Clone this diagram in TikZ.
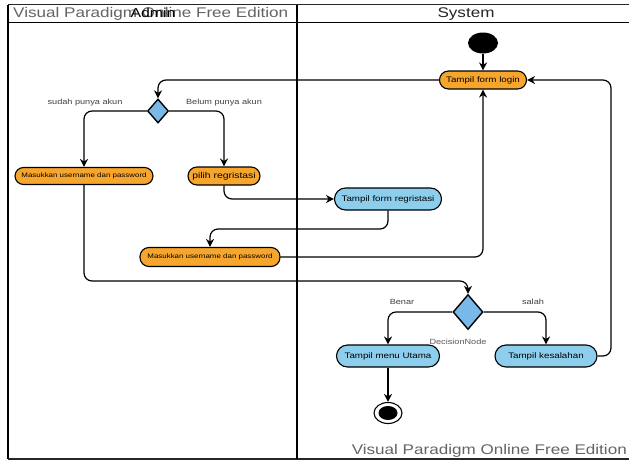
\documentclass[tikz,border=0pt]{standalone}
\usepackage{fontspec}
\setmainfont{Liberation Sans}
\usetikzlibrary{arrows.meta,shapes.geometric,calc}
\definecolor{actorange}{RGB}{247,166,45}
\definecolor{actblue}{RGB}{140,206,236}
\definecolor{decblue}{RGB}{120,185,232}
\definecolor{wmgray}{RGB}{100,100,100}
\newcommand{\hs}[1]{\scalebox{1.22}[1]{#1}}
\begin{document}
\begin{tikzpicture}[x=1pt,y=-1pt,
  act/.style={rectangle, rounded corners=9pt, draw=black, line width=1.1pt, inner sep=0pt, font=\fontsize{8}{9}\selectfont},
  orangeact/.style={act, fill=actorange},
  blueact/.style={act, fill=actblue},
  decision/.style={diamond, draw=black, line width=1.4pt, fill=decblue, inner sep=0pt},
  flow/.style={draw=black, line width=1.2pt, rounded corners=8pt, -{Stealth[length=8pt,width=8pt]}},
  lbl/.style={font=\fontsize{7.5}{9}\selectfont, text=black!75, inner sep=1pt},
  lane/.style={draw=black, line width=1.8pt}
]
\useasboundingbox (0,0) rectangle (629,461);
\clip (0,0) rectangle (629,461);
\fill[white] (0,0) rectangle (629,461);

% frame and lanes
\draw[line width=1.3pt, black!85] (8,4.5) -- (640,4.5);
\draw[lane] (8,4.5) -- (8,459);
\draw[line width=1.3pt, black!85] (8,459) -- (640,459);
\draw[lane] (8,22.5) -- (640,22.5);
\draw[line width=2.6pt] (297,4.5) -- (297,459);

% headers
\node[anchor=west, text=wmgray, font=\fontsize{14}{16}\selectfont, inner sep=0pt] (wm1) at (13,14) {\hs{Visual Paradigm Online Free Edition}};
\node[font=\fontsize{13}{15}\selectfont, inner sep=0pt] (admin) at (153,13) {\hs{Admin}};
\node[font=\fontsize{14}{16}\selectfont, text=black!85, inner sep=0pt] (system) at (466,14) {\hs{System}};
\node[anchor=east, text=wmgray, font=\fontsize{14}{16}\selectfont, inner sep=0pt] (wm2) at (627,451) {\hs{Visual Paradigm Online Free Edition}};

% nodes
\node[ellipse, fill=black, minimum width=30pt, minimum height=21pt, inner sep=0pt] (start) at (483,43) {};
\node[orangeact, minimum width=87pt, minimum height=18pt] (login) at (483,80) {\hs{Tampil form login}};
\node[decision, minimum width=21pt, minimum height=24pt] (d1) at (158,111) {};
\node[orangeact, minimum width=138pt, minimum height=17pt, rounded corners=8.5pt, font=\fontsize{6.5}{7}\selectfont] (m1) at (84,176) {\hs{Masukkan username dan password}};
\node[orangeact, minimum width=72pt, minimum height=18pt, font=\fontsize{8.5}{9}\selectfont] (pilih) at (224,176) {\hs{pilih regristasi}};
\node[blueact, minimum width=107pt, minimum height=22pt, rounded corners=11pt] (reg) at (388,199) {\hs{Tampil form regristasi}};
\node[orangeact, minimum width=140pt, minimum height=19pt, font=\fontsize{6.5}{7}\selectfont] (m2) at (210,257) {\hs{Masukkan username dan password}};
\node[decision, minimum width=30pt, minimum height=35pt] (d2) at (468,312) {};
\node[blueact, minimum width=103pt, minimum height=22pt, rounded corners=11pt] (menu) at (388,356) {\hs{Tampil menu Utama}};
\node[blueact, minimum width=102pt, minimum height=22pt, rounded corners=11pt] (kes) at (546,356) {\hs{Tampil kesalahan}};
\node[ellipse, draw=black, line width=1.1pt, fill=white, minimum width=28pt, minimum height=21pt, inner sep=0pt] (end) at (388,413) {};
\node[ellipse, fill=black, minimum width=19pt, minimum height=14pt, inner sep=0pt] (endin) at (388,413) {};

% helper coordinates
\coordinate (k1) at (388,229);
\coordinate (k2) at (84,281);
\coordinate (k3) at (611,200);

% connectors
\draw[flow] (start) -- (login);
\draw[flow] (login.west) -| (d1.north);
\draw[flow] (d1.west) -| (m1.north);
\draw[flow] (d1.east) -| (pilih.north);
\draw[flow] (pilih.south) |- (reg.west);
\draw[flow] (reg.south) -- (k1) -| (m2.north);
\draw[flow] (m2.east) -| (login.south);
\draw[flow] (m1.south) -- (k2) -| (d2.north);
\draw[flow] (d2.west) -| (menu.north);
\draw[flow] (d2.east) -| (kes.north);
\draw[flow] (kes.east) -| (k3) |- (login.east);
\draw[flow] (menu.south) -- (end.north);

% labels
\node[lbl] (l1) at (85,103) {\hs{sudah punya akun}};
\node[lbl] (l2) at (224,103) {\hs{Belum punya akun}};
\node[lbl] (l3) at (402,302) {\hs{Benar}};
\node[lbl] (l4) at (533,302) {\hs{salah}};
\node[lbl, text=black!65] (l5) at (458,342) {\hs{DecisionNode}};
\end{tikzpicture}
\end{document}
